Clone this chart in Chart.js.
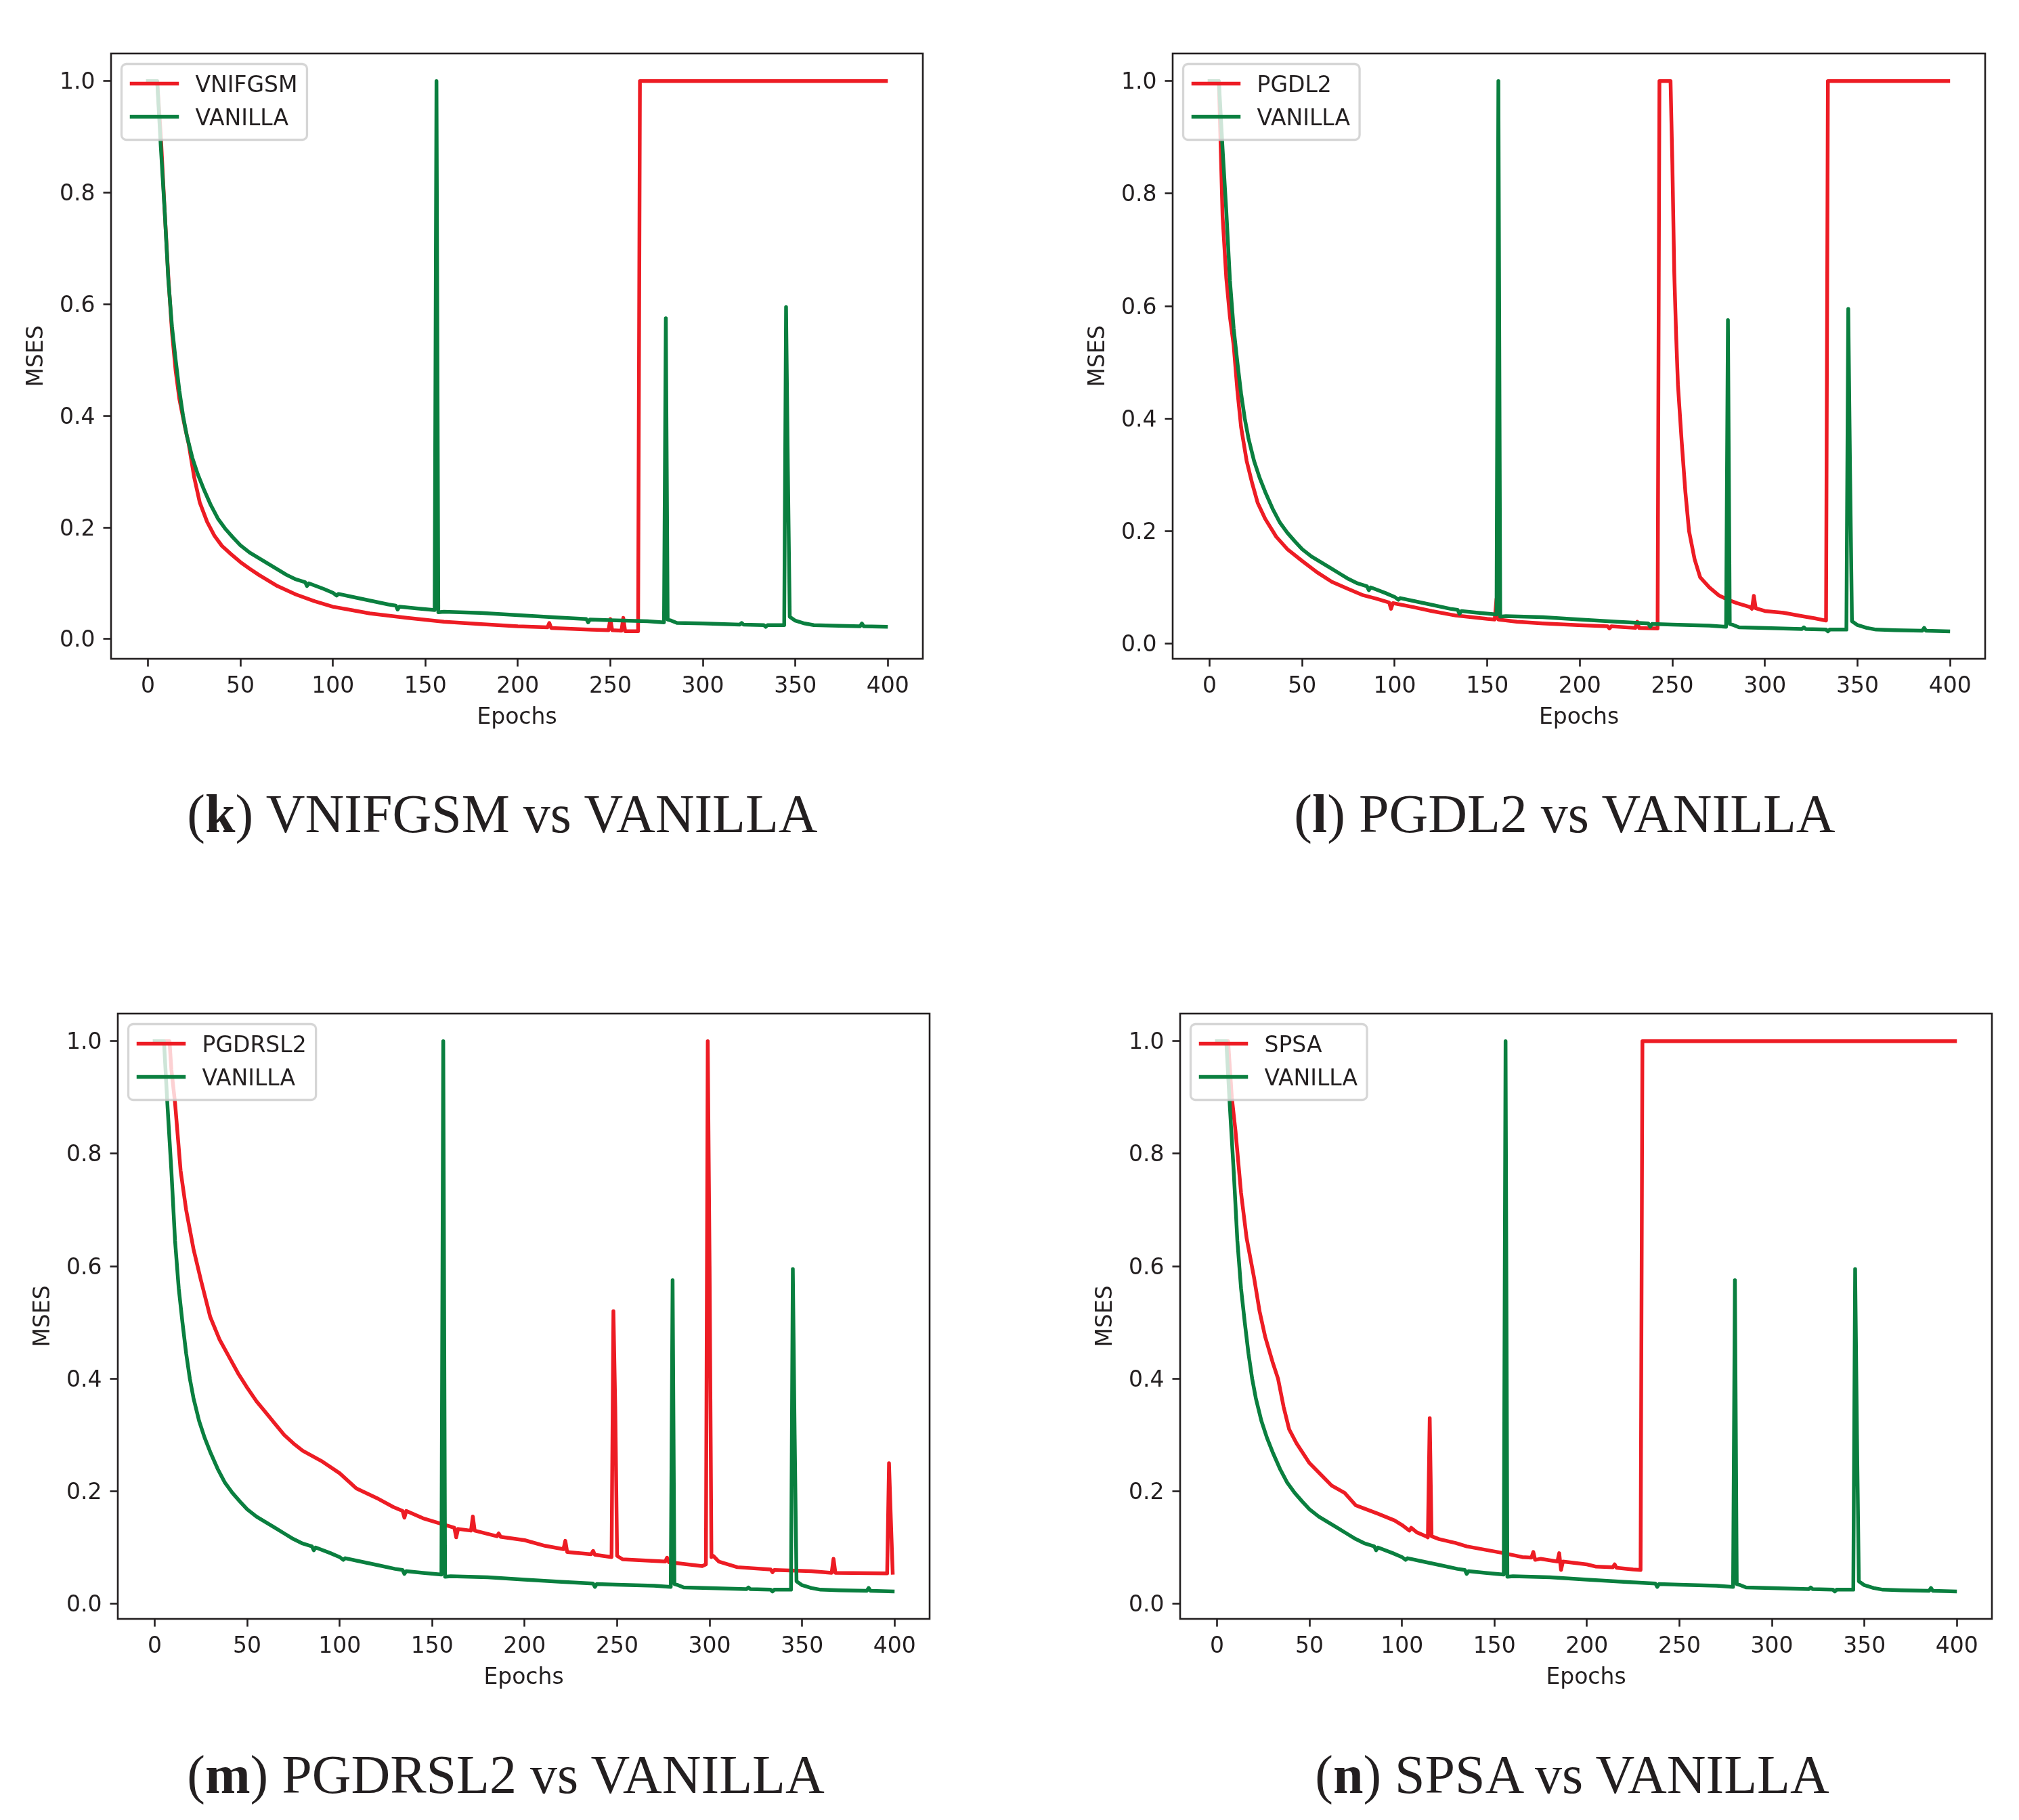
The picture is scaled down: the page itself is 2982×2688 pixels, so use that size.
<!DOCTYPE html>
<html>
<head>
<meta charset="utf-8">
<script src="https://cdn.jsdelivr.net/npm/chart.js@4.4.1/dist/chart.umd.min.js"></script>
<style>
  html, body { margin: 0; padding: 0; background: #fff; }
  #page { position: relative; width: 2982px; height: 2688px; overflow: hidden; background: #fff; }
  #page canvas { position: absolute; }
  .cap {
    position: absolute;
    font-family: 'Liberation Serif', 'Times New Roman', serif;
    font-size: 80px;
    color: #231f20;
    white-space: nowrap;
    transform: translate(-50%, -50%);
  }
</style>
</head>
<body>
<div id="page"></div>
<script>
/* ── Data: MSES per epoch ── */
const X_TICKS = [0, 50, 100, 150, 200, 250, 300, 350, 400];
const Y_TICKS = [0, 0.2, 0.4, 0.6, 0.8, 1.0];

const VANILLA_EPOCH = [0, 5, 7, 9, 11, 13, 15, 17, 19, 21, 24, 27, 30, 34, 38, 42, 46, 50, 55, 60, 65, 70, 75, 80, 85, 86, 87, 95, 100, 102, 103, 110, 120, 130, 134, 135, 136, 145, 155, 156, 157, 160, 180, 200, 220, 237, 238, 239, 250, 260, 270, 279, 280, 281, 283, 286, 300, 320, 321, 322, 333, 334, 335, 344, 345, 346, 347, 350, 355, 360, 370, 385, 386, 387, 399];
const VANILLA_MSE   = [1.0, 1.0, 0.88, 0.77, 0.645, 0.56, 0.5, 0.445, 0.4, 0.365, 0.325, 0.295, 0.27, 0.24, 0.215, 0.197, 0.182, 0.168, 0.155, 0.145, 0.135, 0.125, 0.115, 0.107, 0.102, 0.095, 0.1, 0.09, 0.083, 0.078, 0.081, 0.076, 0.069, 0.062, 0.06, 0.053, 0.058, 0.055, 0.052, 1.0, 0.048, 0.049, 0.047, 0.043, 0.039, 0.036, 0.03, 0.035, 0.034, 0.033, 0.032, 0.03, 0.575, 0.035, 0.033, 0.029, 0.028, 0.026, 0.029, 0.026, 0.025, 0.022, 0.025, 0.025, 0.595, 0.3, 0.04, 0.033, 0.028, 0.025, 0.024, 0.023, 0.028, 0.023, 0.022];

const VNIFGSM_EPOCH = [0, 5, 7, 9, 11, 13, 15, 17, 20, 22, 25, 28, 32, 36, 40, 45, 50, 55, 60, 70, 80, 90, 100, 110, 120, 140, 160, 180, 200, 216, 217, 218, 240, 249, 250, 251, 256, 257, 258, 265, 266, 399];
const VNIFGSM_MSE   = [1.0, 1.0, 0.9, 0.77, 0.65, 0.55, 0.48, 0.43, 0.38, 0.35, 0.29, 0.245, 0.21, 0.185, 0.167, 0.152, 0.138, 0.126, 0.115, 0.095, 0.08, 0.068, 0.058, 0.052, 0.046, 0.038, 0.031, 0.027, 0.023, 0.021, 0.029, 0.02, 0.017, 0.016, 0.036, 0.016, 0.015, 0.038, 0.014, 0.014, 1.0, 1.0];

const PGDL2_EPOCH = [0, 5, 6, 7, 9, 11, 13, 15, 17, 20, 23, 26, 30, 36, 42, 50, 58, 66, 75, 83, 90, 97, 98, 99, 110, 120, 133, 150, 154, 155, 156, 166, 180, 199, 215, 216, 217, 230, 231, 232, 242, 243, 249, 250, 251, 252, 253, 255, 257, 259, 262, 265, 270, 275, 280, 285, 292, 293, 294, 295, 300, 310, 320, 327, 333, 334, 399];
const PGDL2_MSE   = [1.0, 1.0, 0.88, 0.76, 0.65, 0.58, 0.53, 0.45, 0.385, 0.325, 0.285, 0.25, 0.222, 0.19, 0.168, 0.147, 0.127, 0.11, 0.097, 0.086, 0.08, 0.073, 0.062, 0.072, 0.065, 0.058, 0.05, 0.044, 0.043, 0.08, 0.043, 0.039, 0.036, 0.033, 0.031, 0.027, 0.031, 0.028, 0.039, 0.028, 0.027, 1.0, 1.0, 0.85, 0.66, 0.55, 0.46, 0.36, 0.27, 0.2, 0.15, 0.118, 0.1, 0.086, 0.078, 0.072, 0.065, 0.062, 0.085, 0.063, 0.058, 0.055, 0.049, 0.045, 0.041, 1.0, 1.0];

const PGDRSL2_EPOCH = [0, 8, 9, 11, 14, 17, 21, 25, 30, 35, 40, 45, 50, 55, 60, 65, 70, 75, 80, 90, 100, 109, 120, 129, 134, 135, 136, 145, 155, 162, 163, 164, 171, 172, 173, 185, 186, 187, 200, 211, 221, 222, 223, 236, 237, 238, 247, 248, 249, 250, 253, 276, 277, 278, 296, 298, 299, 300, 301, 302, 305, 315, 333, 334, 335, 355, 366, 367, 368, 396, 397, 398, 399];
const PGDRSL2_MSE   = [1.0, 1.0, 0.95, 0.89, 0.77, 0.7, 0.63, 0.575, 0.51, 0.47, 0.44, 0.41, 0.384, 0.36, 0.34, 0.32, 0.3, 0.285, 0.272, 0.254, 0.232, 0.205, 0.188, 0.172, 0.165, 0.153, 0.165, 0.152, 0.142, 0.135, 0.118, 0.133, 0.13, 0.155, 0.13, 0.12, 0.125, 0.119, 0.113, 0.103, 0.097, 0.112, 0.092, 0.088, 0.094, 0.087, 0.083, 0.52, 0.35, 0.085, 0.079, 0.075, 0.082, 0.074, 0.067, 0.07, 1.0, 0.6, 0.083, 0.085, 0.075, 0.065, 0.061, 0.056, 0.06, 0.058, 0.055, 0.08, 0.055, 0.054, 0.25, 0.15, 0.055];

const SPSA_EPOCH = [0, 6, 8, 10, 13, 16, 20, 23, 26, 30, 33, 36, 39, 43, 46, 50, 56, 62, 69, 75, 79, 87, 96, 100, 104, 105, 108, 113, 114, 115, 116, 120, 129, 135, 145, 155, 165, 170, 171, 172, 175, 184, 185, 186, 187, 200, 205, 214, 215, 216, 225, 229, 230, 399];
const SPSA_MSE   = [1.0, 1.0, 0.9, 0.84, 0.73, 0.65, 0.58, 0.52, 0.475, 0.43, 0.4, 0.35, 0.31, 0.285, 0.27, 0.25, 0.23, 0.21, 0.197, 0.175, 0.17, 0.16, 0.148, 0.14, 0.13, 0.135, 0.127, 0.12, 0.118, 0.33, 0.12, 0.115, 0.108, 0.102, 0.096, 0.09, 0.083, 0.082, 0.092, 0.078, 0.08, 0.075, 0.09, 0.06, 0.075, 0.07, 0.066, 0.065, 0.07, 0.064, 0.061, 0.06, 1.0, 1.0];

const ATTACK_NAMES = ['VNIFGSM', 'PGDL2', 'PGDRSL2', 'SPSA'];
const ATTACK_EPOCHS = [VNIFGSM_EPOCH, PGDL2_EPOCH, PGDRSL2_EPOCH, SPSA_EPOCH];
const ATTACK_MSES = [VNIFGSM_MSE, PGDL2_MSE, PGDRSL2_MSE, SPSA_MSE];
const PANEL_LETTERS = ['k', 'l', 'm', 'n'];

/* ── Style ── */
const RED   = '#ed1c24';
const GREEN = '#0a7f3f';
const INK   = '#231f20';
const FONT  = 'DejaVu Sans';
const FS    = 33;
const LW    = 5.5;

/* ── Layout (page pixels) ── */
const CW = 1491, CH = 1120;
const PANELS = [
  { ox: 0,    oy: 0,    box: { left: 164,  right: 1363, top: 79,   bottom: 973 },  cap: [742, 1202] },
  { ox: 1491, oy: 0,    box: { left: 1732, right: 2932, top: 79,   bottom: 973 },  cap: [2311, 1202] },
  { ox: 0,    oy: 1418, box: { left: 174,  right: 1373, top: 1497, bottom: 2391 }, cap: [747, 2621] },
  { ox: 1491, oy: 1418, box: { left: 1743, right: 2942, top: 1497, bottom: 2391 }, cap: [2322, 2621] }
];

function toPoints(xs, ys) {
  return xs.map((x, i) => ({ x: x, y: ys[i] }));
}

/* matplotlib-like frame + legend */
const mplFrame = {
  id: 'mplFrame',
  afterDatasetsDraw(chart) {
    const { ctx, chartArea: a } = chart;
    ctx.save();
    ctx.strokeStyle = INK;
    ctx.lineWidth = 2.6;
    ctx.strokeRect(a.left, a.top, a.right - a.left, a.bottom - a.top);

    // legend, upper left
    ctx.font = FS + 'px "' + FONT + '"';
    const sets = chart.data.datasets;
    const textW = Math.max(...sets.map(d => ctx.measureText(d.label).width));
    const x0 = a.left + 15.5, y0 = a.top + 15.5;
    const w = 109 + textW + 14, h = 112, r = 7;
    ctx.beginPath();
    ctx.moveTo(x0 + r, y0);
    ctx.arcTo(x0 + w, y0, x0 + w, y0 + h, r);
    ctx.arcTo(x0 + w, y0 + h, x0, y0 + h, r);
    ctx.arcTo(x0, y0 + h, x0, y0, r);
    ctx.arcTo(x0, y0, x0 + w, y0, r);
    ctx.closePath();
    ctx.fillStyle = 'rgba(255,255,255,0.8)';
    ctx.fill();
    ctx.strokeStyle = 'rgba(204,204,204,0.8)';
    ctx.lineWidth = 3.3;
    ctx.stroke();

    sets.forEach((d, i) => {
      const y = y0 + 29 + i * 49;
      ctx.beginPath();
      ctx.strokeStyle = d.borderColor;
      ctx.lineWidth = LW;
      ctx.lineCap = 'square';
      ctx.moveTo(x0 + 15, y);
      ctx.lineTo(x0 + 82, y);
      ctx.stroke();
      ctx.fillStyle = INK;
      ctx.textBaseline = 'alphabetic';
      ctx.textAlign = 'left';
      ctx.fillText(d.label, x0 + 109, y + 12);
    });
    ctx.restore();
  }
};

const page = document.getElementById('page');

PANELS.forEach((p, k) => {
  const cv = document.createElement('canvas');
  cv.width = CW;
  cv.height = CH;
  cv.style.left = p.ox + 'px';
  cv.style.top = p.oy + 'px';
  page.appendChild(cv);

  const yW = p.box.left - p.ox;
  const xH = p.oy + CH - p.box.bottom;
  const lh = FS * 1.2;

  // matplotlib autoscale: 5% margins on the data range
  const allY = ATTACK_MSES[k].concat(VANILLA_MSE);
  const dMin = Math.min(...allY), dMax = Math.max(...allY);
  const yPad = 0.05 * (dMax - dMin);
  const xPad = 0.05 * 399;

  const tickFont = { family: FONT, size: FS, lineHeight: 1.2 };

  new Chart(cv, {
    type: 'line',
    data: {
      datasets: [
        { label: ATTACK_NAMES[k], data: toPoints(ATTACK_EPOCHS[k], ATTACK_MSES[k]), borderColor: RED, order: 1 },
        { label: 'VANILLA', data: toPoints(VANILLA_EPOCH, VANILLA_MSE), borderColor: GREEN, order: 0 }
      ]
    },
    options: {
      responsive: false,
      animation: false,
      devicePixelRatio: 1,
      events: [],
      parsing: false,
      layout: { padding: { left: 0, top: p.box.top - p.oy, right: p.ox + CW - p.box.right, bottom: 0 } },
      elements: {
        point: { radius: 0 },
        line: { borderWidth: LW, tension: 0, borderJoinStyle: 'round', borderCapStyle: 'square', fill: false }
      },
      plugins: { legend: { display: false }, tooltip: { enabled: false } },
      scales: {
        x: {
          type: 'linear',
          min: 0 - xPad,
          max: 399 + xPad,
          afterFit: s => { s.height = xH; },
          afterBuildTicks: s => { s.ticks = X_TICKS.map(v => ({ value: v })); },
          ticks: { font: tickFont, color: INK, padding: 10, autoSkip: false, maxRotation: 0, minRotation: 0, callback: v => String(v) },
          grid: { display: true, drawOnChartArea: false, drawTicks: true, tickLength: 11.5, tickWidth: 2.6, tickColor: INK },
          border: { display: false },
          title: { display: true, text: 'Epochs', color: INK, font: tickFont, padding: { top: 0, bottom: xH - 87 - lh / 2 } }
        },
        y: {
          type: 'linear',
          min: dMin - yPad,
          max: dMax + yPad,
          afterFit: s => { s.width = yW; },
          afterBuildTicks: s => { s.ticks = Y_TICKS.map(v => ({ value: v })); },
          ticks: { font: tickFont, color: INK, padding: 12, labelOffset: 3, callback: v => v.toFixed(1) },
          grid: { display: true, drawOnChartArea: false, drawTicks: true, tickLength: 11.5, tickWidth: 2.6, tickColor: INK },
          border: { display: false },
          title: { display: true, text: 'MSES', color: INK, font: tickFont, padding: { top: yW - 109.5 - lh / 2, bottom: 0 } }
        }
      }
    },
    plugins: [mplFrame]
  });

  const cap = document.createElement('div');
  cap.className = 'cap';
  cap.style.left = p.cap[0] + 'px';
  cap.style.top = p.cap[1] + 'px';
  cap.innerHTML = '(<b>' + PANEL_LETTERS[k] + '</b>) ' + ATTACK_NAMES[k] + ' vs VANILLA';
  page.appendChild(cap);
});
</script>
</body>
</html>
